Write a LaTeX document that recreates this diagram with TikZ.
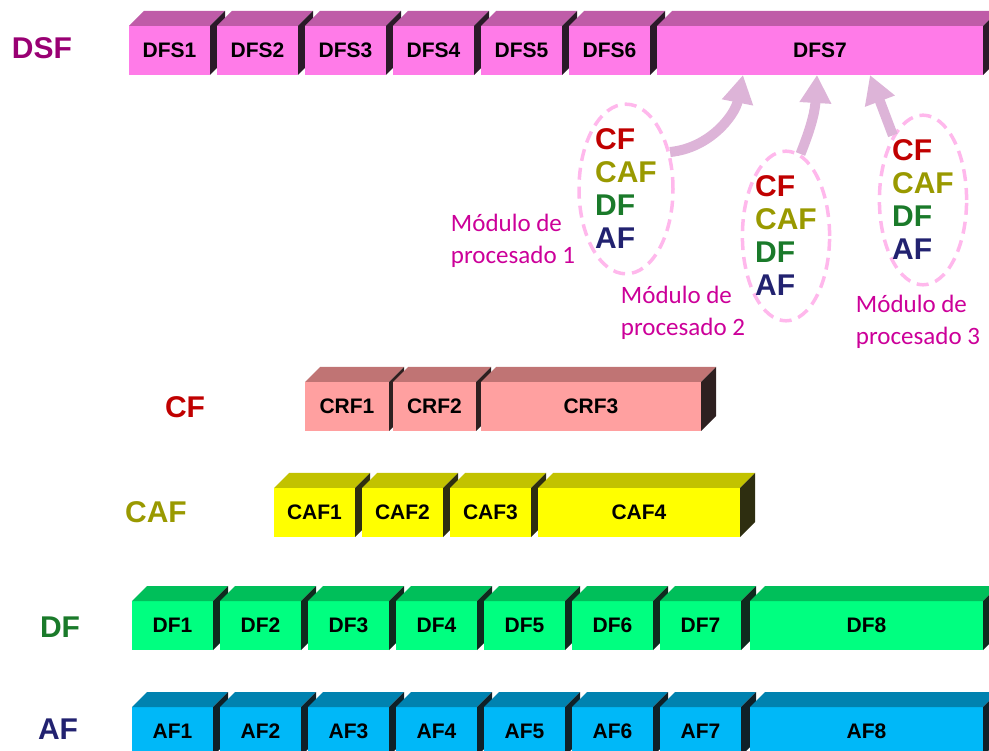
\documentclass[tikz,border=0pt]{standalone}
\usepackage{fontspec}
\setmainfont{Liberation Sans}
\newfontfamily\carlito{Carlito}
\usetikzlibrary{arrows.meta, shapes.geometric}

\definecolor{dsffront}{HTML}{FF7BE8}
\definecolor{dsftop}{HTML}{BF5CA8}
\definecolor{dsfside}{HTML}{2B1A29}
\definecolor{crffront}{HTML}{FFA0A0}
\definecolor{crftop}{HTML}{C07474}
\definecolor{crfside}{HTML}{2E2020}
\definecolor{caffront}{HTML}{FFFF00}
\definecolor{caftop}{HTML}{C2C200}
\definecolor{cafside}{HTML}{2E2E10}
\definecolor{dffront}{HTML}{00FF80}
\definecolor{dftop}{HTML}{00BF5A}
\definecolor{dfside}{HTML}{0F2A1E}
\definecolor{affront}{HTML}{00B8F8}
\definecolor{aftop}{HTML}{0082B0}
\definecolor{afside}{HTML}{0F2028}
\definecolor{rojo}{HTML}{C00000}
\definecolor{oliva}{HTML}{999900}
\definecolor{verde}{HTML}{1A7A2A}
\definecolor{azul}{HTML}{222270}
\definecolor{morado}{HTML}{990073}
\definecolor{rosa}{HTML}{CC0099}
\definecolor{rosaclaro}{HTML}{FFB8EC}
\definecolor{lila}{HTML}{DDB4D8}

\tikzset{
	caja/.style={
		shape=rectangle,
		inner sep=0pt,
		outer sep=0pt,
		minimum height=49pt,
		anchor=north west,
		font=\fontsize{21}{24}\selectfont\bfseries
	},
	rotulo/.style={
		inner sep=0pt,
		font=\fontsize{30}{32}\selectfont\bfseries
	},
	modulo/.style={
		shape=ellipse,
		draw=rosaclaro,
		line width=3.5pt,
		dash pattern=on 12pt off 7pt,
		inner sep=0pt,
		align=left,
		font=\fontsize{30}{33}\selectfont\bfseries
	},
	rotulomod/.style={
		inner sep=0pt,
		align=left,
		text=rosa,
		font=\carlito\fontsize{25}{32}\selectfont
	},
	flecha/.style={
		line width=10pt,
		draw=lila,
		-{Triangle[length=28pt,width=30pt]}
	}
}

% caja 3D: nombre, x, y, ancho, texto, colores
\newcommand{\caja}[6]{%
	\node[caja, fill=#6front, minimum width=#4pt] (#1) at (#2,#3) {#5};
	\fill[#6top] (#1.north west) -- ++(15,-15) -- ++(#4,0) -- (#1.north east) -- cycle;
	\fill[#6side] (#1.north east) -- ++(15,-15) -- ++(0,49) -- (#1.south east) -- cycle;
}

\begin{document}
\begin{tikzpicture}[x=1pt, y=-1pt]
	\useasboundingbox (0,0) rectangle (989,751);
	\clip (0,0) rectangle (989,751);
	
	\foreach \n/\x/\w in {1/129/81,2/217/81,3/305/81,4/393/81,5/481/81,6/569/81,7/657/326} {
		\caja{dfs\n}{\x}{26}{\w}{DFS\n}{dsf}
	}
	
	\foreach \n/\x/\w in {1/305/84,2/393/83,3/481/220} {
		\caja{crf\n}{\x}{382}{\w}{CRF\n}{crf}
	}
	
	\foreach \n/\x/\w in {1/274/81,2/362/81,3/450/81,4/538/202} {
		\caja{caf\n}{\x}{488}{\w}{CAF\n}{caf}
	}
	
	\foreach \n/\x/\w in {1/132/81,2/220/81,3/308/81,4/396/81,5/484/81,6/572/81,7/660/81,8/750/233} {
		\caja{df\n}{\x}{601}{\w}{DF\n}{df}
		\caja{af\n}{\x}{707}{\w}{AF\n}{af}
	}
	
	\node[rotulo, text=morado] (tdsf) at (42,48) {DSF};
	\node[rotulo, text=rojo] (tcf) at (185,407) {CF};
	\node[rotulo, text=oliva] (tcaf) at (156,512) {CAF};
	\node[rotulo, text=verde] (tdf) at (60,627) {DF};
	\node[rotulo, text=azul] (taf) at (58,729) {AF};
	
	\node[modulo, minimum width=94pt, minimum height=164pt] (mod1) at (626,189)
		{\textcolor{rojo}{CF}\\\textcolor{oliva}{CAF}\\\textcolor{verde}{DF}\\\textcolor{azul}{AF}};
	\node[modulo, minimum width=76pt, minimum height=168pt] (mod2) at (786,236)
		{\textcolor{rojo}{CF}\\\textcolor{oliva}{CAF}\\\textcolor{verde}{DF}\\\textcolor{azul}{AF}};
	\node[modulo, minimum width=74pt, minimum height=156pt] (mod3) at (923,200)
		{\textcolor{rojo}{CF}\\\textcolor{oliva}{CAF}\\\textcolor{verde}{DF}\\\textcolor{azul}{AF}};
	
	\node[rotulomod] (lmod1) at (513,241) {Módulo de\\procesado 1};
	\node[rotulomod] (lmod2) at (683,313) {Módulo de\\procesado 2};
	\node[rotulomod] (lmod3) at (918,322) {Módulo de\\procesado 3};
	
	\draw[flecha] (mod1.40) .. controls +(40,-4) and +(-8,40) .. ([xshift=-77pt]dfs7.south);
	\draw[flecha] (mod2.80) .. controls +(12,-30) and +(-2,35) .. ([xshift=-3pt]dfs7.south);
	\draw[flecha] (mod3.115) -- ([xshift=50pt]dfs7.south);
	
\end{tikzpicture}
\end{document}
